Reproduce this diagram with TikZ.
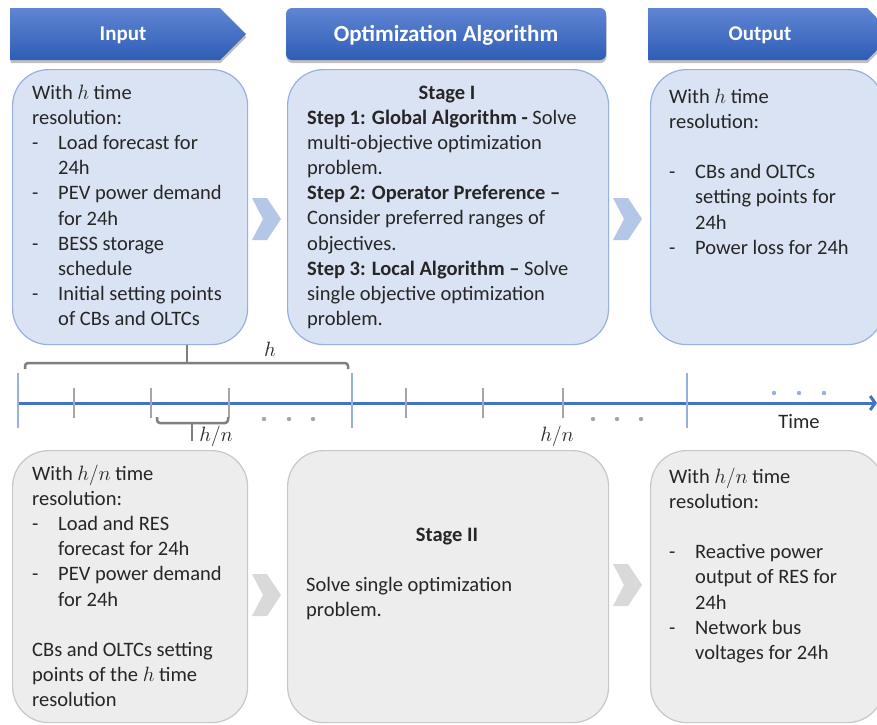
\documentclass[tikz,border=0pt]{standalone}
\usepackage{fontspec}
\setmainfont{Carlito}
\usetikzlibrary{shadows,arrows.meta}

\definecolor{headtop}{RGB}{96,133,211}
\definecolor{headbot}{RGB}{46,93,182}
\definecolor{bluefill}{RGB}{218,227,243}
\definecolor{blueedge}{RGB}{150,177,225}
\definecolor{grayfill}{RGB}{237,237,237}
\definecolor{grayedge}{RGB}{200,200,200}
\definecolor{chevblue}{RGB}{180,199,231}
\definecolor{chevgray}{RGB}{217,217,217}
\definecolor{axisblue}{RGB}{68,114,196}
\definecolor{majortick}{RGB}{150,177,225}
\definecolor{minortick}{RGB}{166,166,166}
\definecolor{bracegray}{RGB}{127,127,127}
\definecolor{textgray}{RGB}{38,38,38}

\newcommand{\bodyfont}{\fontsize{20.5}{25.2}\selectfont}
\newcommand{\dashitem}{\makebox[26pt][l]{-}}
\newcommand{\contd}{\hspace*{26pt}}

\begin{document}
\begin{tikzpicture}[x=1pt,y=-1pt,
  headbar/.style={top color=headtop,bottom color=headbot,draw=none,
    drop shadow={shadow xshift=0.5pt,shadow yshift=-3pt,opacity=0.35,fill=black!70}},
  headtext/.style={text=white,font=\fontsize{21}{25}\selectfont\bfseries,inner sep=0pt,anchor=base},
  bluebox/.style={draw=blueedge,fill=bluefill,line width=1.2pt,rounded corners=36pt,
    anchor=north west,inner sep=0pt},
  graybox/.style={draw=grayedge,fill=grayfill,line width=1.2pt,rounded corners=36pt,
    anchor=north west,inner sep=0pt},
  boxtext/.style={anchor=base west,inner sep=0pt,text=textgray},
  centertext/.style={anchor=base,inner sep=0pt,text=textgray,font=\bodyfont\bfseries},
  chevtop/.style={fill=chevblue,draw=none},
  chevbot/.style={fill=chevgray,draw=none},
  axisline/.style={draw=axisblue,line width=3pt,-{Straight Barb[length=5pt,width=14pt]}},
  majortk/.style={draw=majortick,line width=2pt},
  minortk/.style={draw=minortick,line width=2.5pt},
  brace/.style={draw=bracegray,line width=2.5pt,rounded corners=3pt},
  tickdot/.style={fill=minortick,draw=none},
  bluedot/.style={fill=majortick,draw=none},
  mathlabel/.style={anchor=base,inner sep=0pt,font=\bodyfont,text=textgray}]

\useasboundingbox (0,0) rectangle (877,724);
\fill[white] (0,0) rectangle (877,724);

% ---------- header bars ----------
\path[headbar] (10,8) -- (220,8) -- (246,34) -- (220,60) -- (10,60) -- cycle;
\path[headbar,rounded corners=6pt] (286,8) rectangle (606,60);
\path[headbar] (648,8) -- (867,8) -- (893,34) -- (867,60) -- (648,60) -- cycle;
\node[headtext] (hin) at (123,40) {Input};
\node[headtext,font=\fontsize{23}{27}\selectfont\bfseries] (hopt) at (446,41) {Optimization Algorithm};
\node[headtext] (hout) at (760,40) {Output};

% ---------- upper row (h resolution) ----------
\node[bluebox,minimum width=235pt,minimum height=275pt] (inbox) at (12,69) {};
\node[bluebox,minimum width=321pt,minimum height=275pt] (algbox) at (287,69) {};
\node[bluebox,minimum width=233pt,minimum height=275pt] (outbox) at (650,69) {};

\path[chevtop] (252,198) -- (267,198) -- (281,219) -- (267,240) -- (252,240) -- (263,219) -- cycle;
\path[chevtop] (613,198) -- (628,198) -- (642,219) -- (628,240) -- (613,240) -- (624,219) -- cycle;

\node[boxtext] (intext) at (32,99) {\parbox[t]{215pt}{\raggedright\bodyfont
  With $h$ time\\
  resolution:\\
  \dashitem Load forecast for\\
  \contd 24h\\
  \dashitem PEV power demand\\
  \contd for 24h\\
  \dashitem BESS storage\\
  \contd schedule\\
  \dashitem Initial setting points\\
  \contd of CBs and OLTCs}};

\node[centertext] (stage1) at (447,99) {Stage I};
\node[boxtext] (algtext) at (307,124) {\parbox[t]{300pt}{\raggedright\bodyfont
  \textbf{Step 1: Global Algorithm -} Solve\\
  multi-objective optimization\\
  problem.\\
  \textbf{Step 2: Operator Preference –}\\
  Consider preferred ranges of\\
  objectives.\\
  \textbf{Step 3: Local Algorithm –} Solve\\
  single objective optimization\\
  problem.}};

\node[boxtext] (outtext) at (669,103) {\parbox[t]{205pt}{\raggedright\bodyfont
  With $h$ time\\
  resolution:\\
  \mbox{}\\
  \dashitem CBs and OLTCs\\
  \contd setting points for\\
  \contd 24h\\
  \dashitem Power loss for 24h}};

% ---------- time axis ----------
\coordinate (t0) at (18,403);
\coordinate (tend) at (877,403);
\draw[axisline] (t0) -- (tend);

\foreach \x in {18,352,687}
  \draw[majortk] (\x,373) -- (\x,428);
\foreach \x in {74,151,229,406,483,563}
  \draw[minortk] (\x,388) -- (\x,418);
\foreach \x in {264,289,313,593,617,641}
  \fill[tickdot] (\x,419) circle (2.2pt);
\foreach \x in {774,799,824}
  \fill[bluedot] (\x,393) circle (2.2pt);

\node[anchor=base,inner sep=0pt,font=\bodyfont,text=textgray] (timelbl) at (799,428) {Time};

% braces marking the two resolutions
\coordinate (bigstem) at (inbox.south -| 187,0);
\coordinate (bigmid) at (187,363);
\draw[brace] (25,369) -- (25,363) -- (348,363) -- (348,369);
\draw[brace,rounded corners=0pt] (bigstem) -- (bigmid);
\node[mathlabel] (hlbl) at (270,356) {$h$};

\coordinate (smallmid) at (192,423);
\coordinate (smallstem) at (192,441);
\draw[brace] (157,417) -- (157,423) -- (228,423) -- (228,417);
\draw[brace,rounded corners=0pt] (smallmid) -- (smallstem);
\node[mathlabel] (hnlbl1) at (216,441) {$h/n$};
\node[mathlabel] (hnlbl2) at (557,441) {$h/n$};

% ---------- lower row (h/n resolution) ----------
\node[graybox,minimum width=235pt,minimum height=272pt] (inbox2) at (12,450) {};
\node[graybox,minimum width=321pt,minimum height=272pt] (algbox2) at (287,450) {};
\node[graybox,minimum width=233pt,minimum height=272pt] (outbox2) at (650,450) {};

\path[chevbot] (252,574) -- (267,574) -- (281,595) -- (267,616) -- (252,616) -- (263,595) -- cycle;
\path[chevbot] (613,564) -- (628,564) -- (642,585) -- (628,606) -- (613,606) -- (624,585) -- cycle;

\node[boxtext] (intext2) at (32,480) {\parbox[t]{215pt}{\raggedright\bodyfont
  With $h/n$ time\\
  resolution:\\
  \dashitem Load and RES\\
  \contd forecast for 24h\\
  \dashitem PEV power demand\\
  \contd for 24h\\
  \mbox{}\\
  CBs and OLTCs setting\\
  points of the $h$ time\\
  resolution}};

\node[centertext] (stage2) at (447,541) {Stage II};
\node[boxtext] (algtext2) at (306,591) {\parbox[t]{300pt}{\raggedright\bodyfont
  Solve single optimization\\
  problem.}};

\node[boxtext] (outtext2) at (669,483) {\parbox[t]{205pt}{\raggedright\bodyfont
  With $h/n$ time\\
  resolution:\\
  \mbox{}\\
  \dashitem Reactive power\\
  \contd output of RES for\\
  \contd 24h\\
  \dashitem Network bus\\
  \contd voltages for 24h}};

\end{tikzpicture}
\end{document}
